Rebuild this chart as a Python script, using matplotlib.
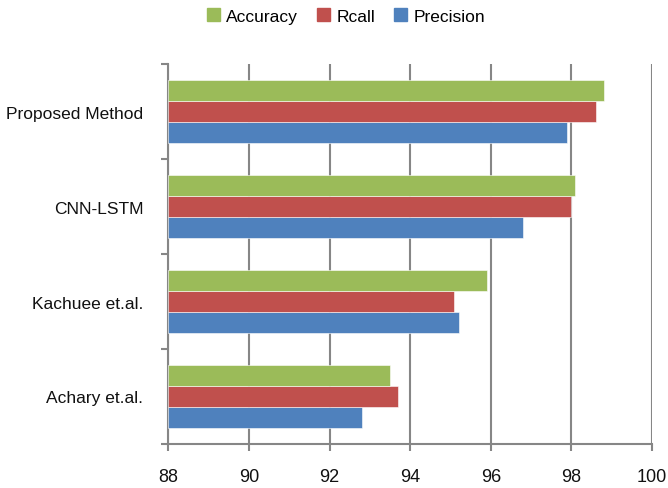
import numpy as np
import matplotlib.pyplot as plt
from matplotlib.patches import Patch

plt.rcParams['font.family'] = ['Liberation Sans', 'DejaVu Sans']

methods = ["Achary et.al.", "Kachuee et.al.", "CNN-LSTM", "Proposed Method"]
precision = [92.8, 95.2, 96.8, 97.9]
rcall = [93.7, 95.1, 98.0, 98.6]
accuracy = [93.5, 95.9, 98.1, 98.8]

series = [("Precision", precision, "#4F81BD"),
          ("Rcall", rcall, "#C0504D"),
          ("Accuracy", accuracy, "#9BBB59")]

fig = plt.figure(figsize=(6.68, 4.89), dpi=100)
ax = fig.add_axes([0.252, 0.09, 0.724, 0.777])

pos = np.arange(len(methods))
h = 0.22
base = 88
for k, (name, vals, col) in enumerate(series):
    ax.barh(pos + (k - 1) * h, np.array(vals) - base, height=h, left=base,
            color=col, edgecolor="white", linewidth=0.4, zorder=3)

ax.set_xlim(88, 100)
ax.set_ylim(-0.5, len(methods) - 0.5)
ax.set_xticks(np.arange(88, 101, 2))

# category labels centred, tick marks on the boundaries
ax.set_yticks(np.arange(-0.5, len(methods), 1.0))
ax.set_yticklabels([])
ax.set_yticks(pos, minor=True)
ax.set_yticklabels(methods, minor=True)
ax.tick_params(axis="y", which="minor", length=0, pad=18, labelsize=12.5, labelcolor="#111111")
ax.tick_params(axis="y", which="major", length=5, width=1.5, color="#868686", direction="out")
ax.tick_params(axis="x", length=5, width=1.5, color="#868686", pad=12, labelsize=13,
               labelcolor="#111111")

ax.xaxis.grid(True, color="#868686", linewidth=1.5, zorder=0)
for s in ["top", "right"]:
    ax.spines[s].set_visible(False)
for s in ["left", "bottom"]:
    ax.spines[s].set_color("#868686")
    ax.spines[s].set_linewidth(1.5)

handles = [Patch(color=c, label=n) for n, _, c in series[::-1]]
fig.legend(handles=handles, loc="center", bbox_to_anchor=(0.518, 0.965), ncol=3,
           frameon=False, fontsize=12.5, handlelength=0.75, handleheight=0.75,
           handletextpad=0.35, columnspacing=1.1)

fig.savefig("out.png", dpi=100)
